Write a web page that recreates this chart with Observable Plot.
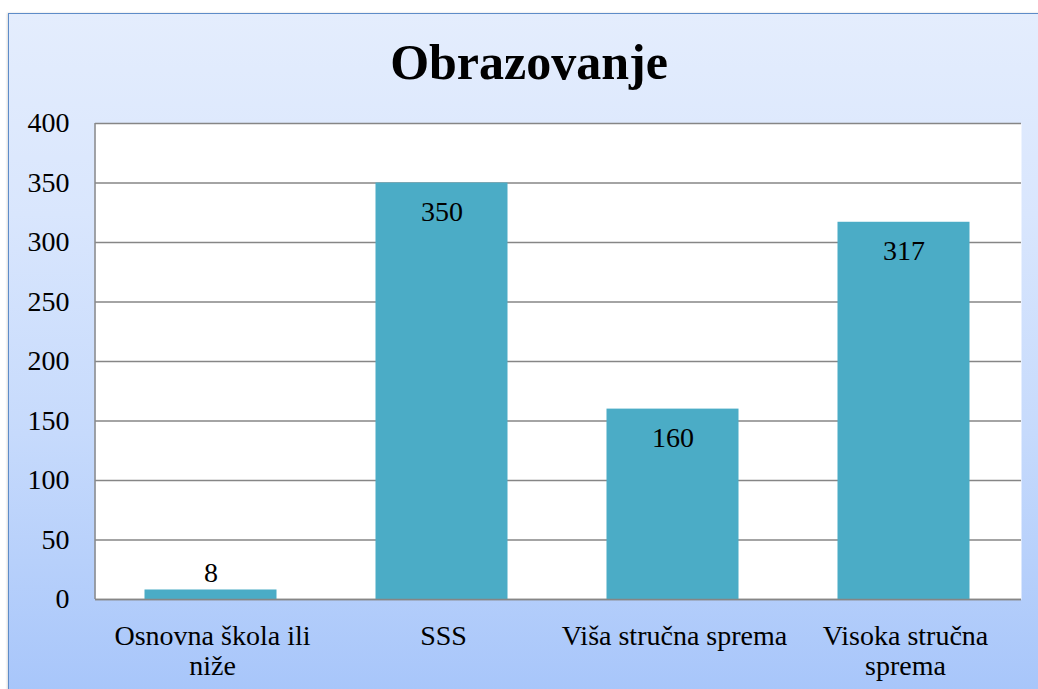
<!DOCTYPE html>
<html>
<head>
<meta charset="utf-8">
<script src="https://cdn.jsdelivr.net/npm/d3@7"></script>
<script src="https://cdn.jsdelivr.net/npm/@observablehq/plot@0.6"></script>
<style>
  html, body { margin: 0; padding: 0; background: #fff; width: 1038px; height: 689px; overflow: hidden; }
  #wrap { position: relative; width: 1038px; height: 689px; }
  #bg { position: absolute; left: 8px; top: 13px; width: 1100px; height: 720px;
        border: 1.5px solid #5E8CC8; box-sizing: border-box;
        background: linear-gradient(to bottom, #E4EDFD 0px, #D9E6FD 200px, #C6DAFC 420px, #A8C6FA 676px);
        box-shadow: -1px 0 2px rgba(0,0,0,0.15); }
  #title { position: absolute; left: 0; width: 1058px; top: 37px; text-align: center;
           font-family: "Liberation Serif", serif; font-weight: bold; font-size: 50px; line-height: 50px; color: #000; }
  #chart { position: absolute; left: 0; top: 0; }
  #chart svg text { font-family: "Liberation Serif", serif !important; }
</style>
</head>
<body>
<div id="wrap">
  <div id="bg"></div>
  <div id="title">Obrazovanje</div>
  <div id="chart"></div>
</div>
<script>
const categories = ["Osnovna škola ili niže", "SSS", "Viša stručna sprema", "Visoka stručna sprema"];
const tickLabels = ["Osnovna škola ili\nniže", "SSS", "Viša stručna sprema", "Visoka stručna\nsprema"];
const values = [8, 350, 160, 317];
const yTicks = [0, 50, 100, 150, 200, 250, 300, 350, 400];

const data = categories.map((c, i) => ({category: c, value: values[i]}));
const labelOf = new Map(categories.map((c, i) => [c, tickLabels[i]]));
const font = "Liberation Serif";

const leftLine = (index, scales, values, dimensions) => {
  const x = dimensions.marginLeft;
  return d3.create("svg:line")
    .attr("x1", x).attr("x2", x)
    .attr("y1", dimensions.marginTop)
    .attr("y2", dimensions.height - dimensions.marginBottom)
    .attr("stroke", "#888").attr("stroke-width", 1.5).node();
};

const chart = Plot.plot({
  width: 1038,
  height: 689,
  marginLeft: 95,
  marginRight: 17,
  marginTop: 123,
  marginBottom: 90,
  style: {background: "transparent", fontFamily: font, fontSize: "28px", color: "#000", overflow: "visible"},
  x: {domain: categories, paddingInner: 0.43, paddingOuter: 0.215, label: null},
  y: {domain: [0, 400], label: null},
  marks: [
    Plot.frame({fill: "white", stroke: null}),
    Plot.gridY(yTicks, {stroke: "#868686", strokeOpacity: 1, strokeWidth: 1.5}),
    leftLine,
    Plot.barY(data, {x: "category", y: "value", fill: "#4BACC6", dx: -1.5}),
    Plot.ruleY([0], {stroke: "#868686", strokeWidth: 1.5}),
    Plot.axisY(yTicks, {tickSize: 0, tickPadding: 26, fontSize: 28, fontFamily: font, fill: "#000", label: null}),
    Plot.axisX({tickSize: 0, tickPadding: 24, fontSize: 28, fontFamily: font, fill: "#000", lineHeight: 1.07, label: null,
                tickFormat: d => labelOf.get(d)}),
    Plot.text(data.filter(d => d.value >= 30), {x: "category", y: "value", text: d => String(d.value),
              dy: 29, dx: -1.5, fontSize: 28, fontFamily: font, fill: "#000", lineAnchor: "middle"}),
    Plot.text(data.filter(d => d.value < 30), {x: "category", y: "value", text: d => String(d.value),
              dy: -17, dx: -1.5, fontSize: 28, fontFamily: font, fill: "#000", lineAnchor: "middle"})
  ]
});
document.getElementById("chart").appendChild(chart);
</script>
</body>
</html>
